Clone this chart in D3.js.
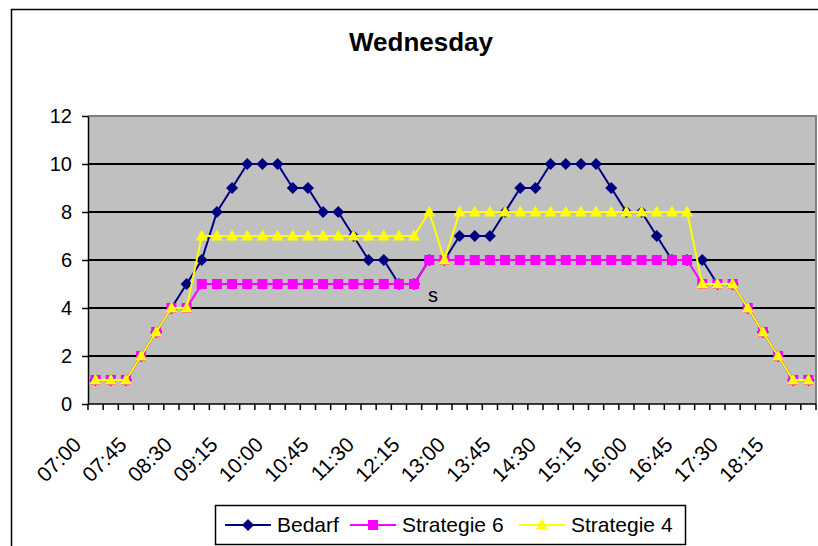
<!DOCTYPE html>
<html>
<head>
<meta charset="utf-8">
<script src="https://cdn.jsdelivr.net/npm/d3@7"></script>
<style>
  body { margin: 0; background: #fff; }
  svg { display: block; font-family: Arial, 'Liberation Sans', sans-serif; }
</style>
</head>
<body>
<div id="chart"></div>
<script>
// categories (15 min slots)
const times = ['07:00','07:15','07:30','07:45','08:00','08:15','08:30','08:45',
    '09:00','09:15','09:30','09:45','10:00','10:15','10:30','10:45',
    '11:00','11:15','11:30','11:45','12:00','12:15','12:30','12:45',
    '13:00','13:15','13:30','13:45','14:00','14:15','14:30','14:45',
    '15:00','15:15','15:30','15:45','16:00','16:15','16:30','16:45',
    '17:00','17:15','17:30','17:45','18:00','18:15','18:30','18:45'];

const bedarf = [1,1,1,2,3,4,5,6,8,9,10,10,10,9,9,8,8,7,6,6,5,5,6,6,
    7,7,7,8,9,9,10,10,10,10,9,8,8,7,6,6,6,5,5,4,3,2,1,1];
const strategie6 = [1,1,1,2,3,4,4,5,5,5,5,5,5,5,5,5,5,5,5,5,5,5,6,6,
    6,6,6,6,6,6,6,6,6,6,6,6,6,6,6,6,5,5,5,4,3,2,1,1];
const strategie4 = [1,1,1,2,3,4,4,7,7,7,7,7,7,7,7,7,7,7,7,7,7,7,8,6,
    8,8,8,8,8,8,8,8,8,8,8,8,8,8,8,8,5,5,5,4,3,2,1,1];

const yTicks = [0, 2, 4, 6, 8, 10, 12];

const series = [
    { name: 'Bedarf', values: bedarf, color: '#000080', marker: 'diamond' },
    { name: 'Strategie 6', values: strategie6, color: '#FF00FF', marker: 'square' },
    { name: 'Strategie 4', values: strategie4, color: '#FFFF00', marker: 'triangle' }
];

const width = 818, height = 546;
const plot = { left: 88, right: 816, top: 116, bottom: 404 };

const svg = d3.select('#chart').append('svg')
    .attr('width', width)
    .attr('height', height);

// chart frame (runs off the right and bottom of the picture)
svg.append('rect')
    .attr('x', 11.5).attr('y', 9.5)
    .attr('width', 840).attr('height', 560)
    .attr('fill', '#fff')
    .attr('stroke', '#000')
    .attr('stroke-width', 1.5);

const x = d3.scaleBand().domain(times).range([plot.left, plot.right]).padding(0);
const y = d3.scaleLinear().domain([0, 12]).range([plot.bottom, plot.top]);
const cx = (d) => x(d) + x.bandwidth() / 2;

// plot background
svg.append('rect')
    .attr('x', plot.left).attr('y', plot.top)
    .attr('width', plot.right - plot.left).attr('height', plot.bottom - plot.top)
    .attr('fill', '#C0C0C0');

// grid lines
svg.append('g').selectAll('line')
    .data(yTicks.filter((t) => t > 0 && t < 12))
    .enter().append('line')
    .attr('x1', plot.left).attr('x2', plot.right)
    .attr('y1', (d) => y(d)).attr('y2', (d) => y(d))
    .attr('stroke', '#000')
    .attr('stroke-width', 2);

// plot border top / right
svg.append('path')
    .attr('d', `M${plot.left},${plot.top}H${plot.right}V${plot.bottom}`)
    .attr('fill', 'none')
    .attr('stroke', '#808080')
    .attr('stroke-width', 2);

// y axis
const yAxis = svg.append('g')
    .attr('transform', `translate(${plot.left},0)`)
    .call(d3.axisLeft(y).tickValues(yTicks).tickSize(6).tickPadding(10).tickSizeOuter(0));
yAxis.select('.domain').attr('stroke', '#000').attr('stroke-width', 1.5);
yAxis.selectAll('.tick line').attr('stroke', '#000').attr('stroke-width', 1.5);
yAxis.selectAll('.tick text')
    .attr('font-size', 20)
    .attr('font-family', "Arial, 'Liberation Sans', sans-serif")
    .attr('fill', '#000');

// x axis: ticks between categories
const xAxis = svg.append('g');
xAxis.append('line')
    .attr('x1', plot.left).attr('x2', plot.right)
    .attr('y1', plot.bottom).attr('y2', plot.bottom)
    .attr('stroke', '#000').attr('stroke-width', 1.5);
const boundaries = times.map((d) => x(d)).concat([plot.right]);
xAxis.selectAll('.xtick')
    .data(boundaries)
    .enter().append('line')
    .attr('class', 'xtick')
    .attr('x1', (d) => d).attr('x2', (d) => d)
    .attr('y1', plot.bottom).attr('y2', plot.bottom + 6)
    .attr('stroke', '#000').attr('stroke-width', 1.5);
xAxis.selectAll('.xlabel')
    .data(times.filter((d, i) => i % 3 === 0))
    .enter().append('text')
    .attr('class', 'xlabel')
    .attr('transform', (d) => `translate(${cx(d) - 13},${plot.bottom + 42}) rotate(-45)`)
    .attr('text-anchor', 'end')
    .attr('font-size', 21)
    .text((d) => d);

// marker shapes
function markerPath(type) {
    if (type === 'diamond') return 'M0,-6L6,0L0,6L-6,0Z';
    if (type === 'square') return 'M-5,-5H5V5H-5Z';
    return 'M0,-6.5L6,4.5H-6Z';
}

const line = d3.line()
    .x((d, i) => cx(times[i]))
    .y((d) => y(d));

series.forEach((s) => {
    const g = svg.append('g');
    g.append('path')
        .datum(s.values)
        .attr('d', line)
        .attr('fill', 'none')
        .attr('stroke', s.color)
        .attr('stroke-width', 2);
    g.selectAll('path.marker')
        .data(s.values)
        .enter().append('path')
        .attr('class', 'marker')
        .attr('d', markerPath(s.marker))
        .attr('transform', (d, i) => `translate(${cx(times[i])},${y(d)})`)
        .attr('fill', s.color);
});

// stray label inside the plot
svg.append('text')
    .attr('x', 428).attr('y', 302)
    .attr('font-size', 20)
    .text('s');

// title
svg.append('text')
    .attr('x', 421).attr('y', 51)
    .attr('text-anchor', 'middle')
    .attr('font-size', 26)
    .attr('font-weight', 'bold')
    .text('Wednesday');

// legend
const legend = svg.append('g');
legend.append('rect')
    .attr('x', 215.5).attr('y', 505.5)
    .attr('width', 470).attr('height', 39)
    .attr('fill', '#fff')
    .attr('stroke', '#000')
    .attr('stroke-width', 1.5);
const legendX = [225, 350, 519];
series.forEach((s, i) => {
    const lx = legendX[i];
    legend.append('line')
        .attr('x1', lx).attr('x2', lx + 46)
        .attr('y1', 525).attr('y2', 525)
        .attr('stroke', s.color).attr('stroke-width', 2);
    legend.append('path')
        .attr('d', markerPath(s.marker))
        .attr('transform', `translate(${lx + 23},525)`)
        .attr('fill', s.color);
    legend.append('text')
        .attr('x', lx + 52).attr('y', 532)
        .attr('font-size', 21)
        .text(s.name);
});
</script>
</body>
</html>
